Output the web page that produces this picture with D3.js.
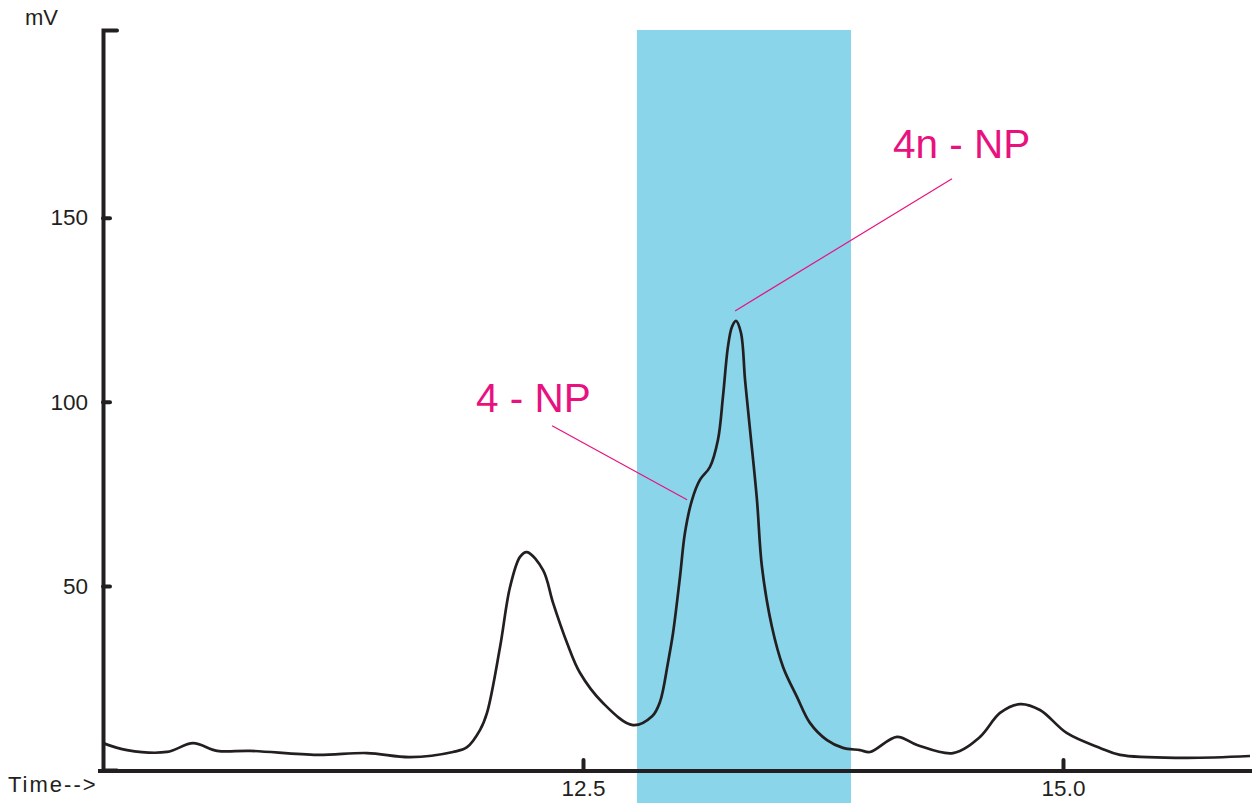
<!DOCTYPE html>
<html>
<head>
<meta charset="utf-8">
<script src="https://cdn.jsdelivr.net/npm/d3@7"></script>
<style>
  html, body { margin: 0; padding: 0; background: #ffffff; }
  svg { display: block; }
  text { font-family: "Liberation Sans", Arial, sans-serif; }
</style>
</head>
<body>
<svg id="chart" width="1255" height="803"></svg>
<script>
// ---- data ----
const times = [10.000, 10.125, 10.333, 10.469, 10.594, 10.766, 11.115, 11.375, 11.599, 11.823, 11.896, 11.964,
  12.000, 12.068, 12.120, 12.172, 12.208, 12.292, 12.344, 12.417, 12.484, 12.604, 12.760, 12.860, 12.901,
  12.943, 12.969, 13.005, 13.031, 13.068, 13.109, 13.161, 13.203, 13.229, 13.255, 13.276, 13.297, 13.323,
  13.344, 13.370, 13.406, 13.432, 13.484, 13.542, 13.615, 13.682, 13.771, 13.854, 13.943, 13.995, 14.135,
  14.240, 14.427, 14.568, 14.672, 14.776, 14.880, 15.021, 15.193, 15.297, 15.625, 15.974];
const signal = [7.3, 5.4, 4.9, 7.3, 5.2, 5.2, 4.1, 4.6, 3.5, 4.9, 6.2, 10.9,
  15.5, 33.4, 49.7, 57.9, 59.2, 54.3, 45.4, 34.5, 26.4, 18.2, 12.2, 14.6, 18.5,
  29.3, 37.2, 52.4, 64.4, 73.4, 78.8, 82.3, 89.7, 101.4, 115.0, 120.4, 122.0, 118.7,
  106.0, 92.4, 73.4, 55.2, 38.9, 28.0, 19.8, 12.8, 8.1, 6.0, 5.4, 4.9, 9.0,
  6.8, 4.6, 9.0, 15.5, 17.9, 16.3, 10.0, 6.0, 4.1, 3.3, 3.8];
const xTicks = [12.5, 15.0];
const yTicks = [50, 100, 150];
const band = [12.781, 13.896];
const annotLabels = ["4 - NP", "4n - NP"];
const annotTextPos = [[11.943, 97.3], [14.115, 166.3]];
const annotLineFrom = [[12.339, 93.5], [14.422, 160.6]];
const annotLineTo = [[13.042, 73.4], [13.292, 124.7]];

// ---- scales ----
const svg = d3.select("#chart");
const x = d3.scaleLinear().domain([10, 15.974]).range([103, 1250]);
const y = d3.scaleLinear().domain([0, 201]).range([770, 30]);
const ink = "#231f20";
const pink = "#e8127f";

// band
svg.append("rect")
  .attr("x", x(band[0]))
  .attr("y", y(201))
  .attr("width", x(band[1]) - x(band[0]))
  .attr("height", 803 - y(201))
  .attr("fill", "#8ad5ea");

// y axis
const yAxis = svg.append("g")
  .attr("transform", "translate(103,0)")
  .call(d3.axisLeft(y).tickValues(yTicks).tickSizeInner(-7).tickSizeOuter(-14).tickPadding(15).tickFormat(d3.format("d")));
yAxis.select(".domain").attr("stroke", ink).attr("stroke-width", 4).attr("stroke-linecap", "round");
yAxis.selectAll(".tick line").attr("stroke", ink).attr("stroke-width", 4).attr("stroke-linecap", "round");
yAxis.selectAll(".tick text").attr("fill", ink).style("font-size", "22.5px").style("font-family", "'Liberation Sans', Arial, sans-serif");

// x axis
const xAxis = svg.append("g")
  .attr("transform", "translate(0,771)")
  .call(d3.axisBottom(x).tickValues(xTicks).tickSizeInner(-11).tickSizeOuter(0).tickPadding(9).tickFormat(d3.format(".1f")));
xAxis.select(".domain").attr("stroke", ink).attr("stroke-width", 4).attr("d", "M98,0H1252");
xAxis.selectAll(".tick line").attr("stroke", ink).attr("stroke-width", 4).attr("stroke-linecap", "round");
xAxis.selectAll(".tick text").attr("fill", ink).style("font-size", "22.5px").style("font-family", "'Liberation Sans', Arial, sans-serif");

// axis titles
svg.append("text").attr("x", 25).attr("y", 25).attr("fill", ink).style("font-size", "22px").text("mV");
svg.append("text").attr("x", 8).attr("y", 792).attr("fill", ink).style("font-size", "22px")
  .style("letter-spacing", "2px").text("Time-->");

// trace
const pts = times.map((t, i) => [t, signal[i]]);
svg.append("path")
  .datum(pts)
  .attr("fill", "none")
  .attr("stroke", ink)
  .attr("stroke-width", 2.7)
  .attr("stroke-linejoin", "round")
  .attr("d", d3.line().x(d => x(d[0])).y(d => y(d[1])).curve(d3.curveCatmullRom.alpha(0.5)));

// annotations
annotLabels.forEach((lab, i) => {
  svg.append("line")
    .attr("x1", x(annotLineFrom[i][0])).attr("y1", y(annotLineFrom[i][1]))
    .attr("x2", x(annotLineTo[i][0])).attr("y2", y(annotLineTo[i][1]))
    .attr("stroke", pink).attr("stroke-width", 1.2);
  svg.append("text")
    .attr("x", x(annotTextPos[i][0])).attr("y", y(annotTextPos[i][1]))
    .attr("fill", pink).style("font-size", "40.5px").text(lab);
});
</script>
</body>
</html>
